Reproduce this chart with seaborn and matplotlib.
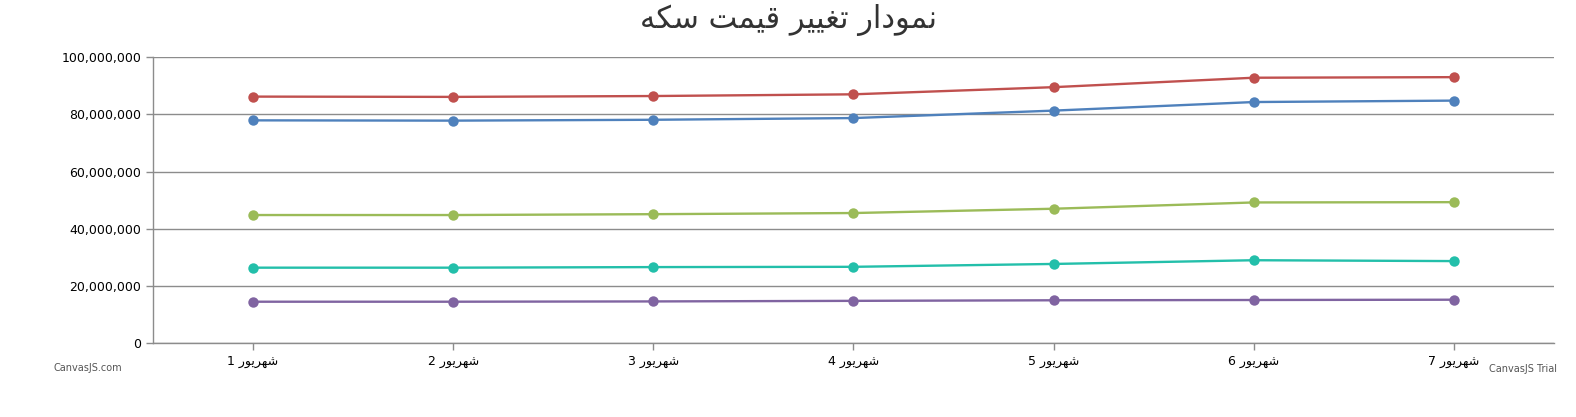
import pandas as pd
import matplotlib.pyplot as plt
import seaborn as sns
from matplotlib.ticker import FuncFormatter

# values (toman)
days = ["شهریور 1", "شهریور 2", "شهریور 3", "شهریور 4", "شهریور 5", "شهریور 6", "شهریور 7"]
red = [86.2, 86.1, 86.4, 87.0, 89.5, 92.8, 93.0]
blue = [77.9, 77.8, 78.1, 78.7, 81.3, 84.3, 84.8]
green = [44.8, 44.8, 45.1, 45.5, 47.0, 49.2, 49.3]
teal = [26.4, 26.4, 26.6, 26.7, 27.7, 29.0, 28.7]
purple = [14.5, 14.5, 14.6, 14.8, 15.0, 15.1, 15.2]
title = "نمودار تغییر قیمت سکه"

colors = ["#C0504E", "#4F81BC", "#9BBB58", "#23BFAA", "#8064A1"]

# matplotlib does no arabic shaping -> pick presentation forms by hand
forms = {
    "ن": ("\uFEE5", "\uFEE6", "\uFEE7", "\uFEE8"),
    "م": ("\uFEE1", "\uFEE2", "\uFEE3", "\uFEE4"),
    "ت": ("\uFE95", "\uFE96", "\uFE97", "\uFE98"),
    "غ": ("\uFECD", "\uFECE", "\uFECF", "\uFED0"),
    "ی": ("\uFBFC", "\uFBFD", "\uFBFE", "\uFBFF"),
    "ق": ("\uFED5", "\uFED6", "\uFED7", "\uFED8"),
    "س": ("\uFEB1", "\uFEB2", "\uFEB3", "\uFEB4"),
    "ک": ("\uFB8E", "\uFB8F", "\uFB90", "\uFB91"),
    "ه": ("\uFEE9", "\uFEEA", "\uFEEB", "\uFEEC"),
    "ش": ("\uFEB5", "\uFEB6", "\uFEB7", "\uFEB8"),
    "و": ("\uFEED", "\uFEEE"),
    "د": ("\uFEA9", "\uFEAA"),
    "ا": ("\uFE8D", "\uFE8E"),
    "ر": ("\uFEAD", "\uFEAE"),
}


def shape(s):
    out = []
    for i, ch in enumerate(s):
        if ch not in forms:
            out.append(ch)
            continue
        prev = s[i - 1] if i > 0 else ""
        nxt = s[i + 1] if i + 1 < len(s) else ""
        jp = prev in forms and len(forms[prev]) == 4
        jn = nxt in forms and len(forms[ch]) == 4
        f = forms[ch]
        if jp and jn:
            out.append(f[3])
        elif jp:
            out.append(f[1])
        elif jn:
            out.append(f[2])
        else:
            out.append(f[0])
    return "".join(out)[::-1]


rows = []
for name, vals in zip(["s1", "s2", "s3", "s4", "s5"], [red, blue, green, teal, purple]):
    for i, v in enumerate(vals):
        rows.append({"day": i, "price": v * 1e6, "series": name})
df = pd.DataFrame(rows)

sns.set_style("white")
plt.rcParams["font.family"] = ["DejaVu Sans"]

fig = plt.figure(figsize=(15.76, 4.17), dpi=100)
ax = fig.add_axes([0.097, 0.177, 0.889, 0.686])

sns.lineplot(data=df, x="day", y="price", hue="series", palette=colors,
             marker="o", markersize=7.5, markeredgewidth=0, linewidth=1.7,
             legend=False, ax=ax)

ax.set_xlim(-0.5, 6.5)
ax.set_ylim(0, 100e6)
ax.set_yticks(range(0, 100000001, 20000000))
ax.yaxis.set_major_formatter(FuncFormatter(lambda v, p: f"{int(v):,}"))
ax.set_xticks(range(len(days)))
ax.set_xticklabels([shape(d) for d in days])
ax.grid(axis="y", color="#8c8c8c", linewidth=1)
ax.set_axisbelow(True)
ax.set_xlabel("")
ax.set_ylabel("")
for s in ["top", "right"]:
    ax.spines[s].set_visible(False)
for s in ["left", "bottom"]:
    ax.spines[s].set_color("#8c8c8c")
    ax.spines[s].set_linewidth(1)
ax.tick_params(axis="both", colors="#8c8c8c", labelcolor="black",
               labelsize=9, length=5, width=1, left=True, bottom=True)

fig.text(0.5, 0.952, shape(title), ha="center", va="center", fontsize=22, color="#333333")
fig.text(0.034, 0.118, "CanvasJS.com", fontsize=7, color="#555555", va="center")
fig.text(0.988, 0.115, "CanvasJS Trial", fontsize=7, color="#555555", ha="right", va="center")

plt.savefig("out.png", dpi=100)
